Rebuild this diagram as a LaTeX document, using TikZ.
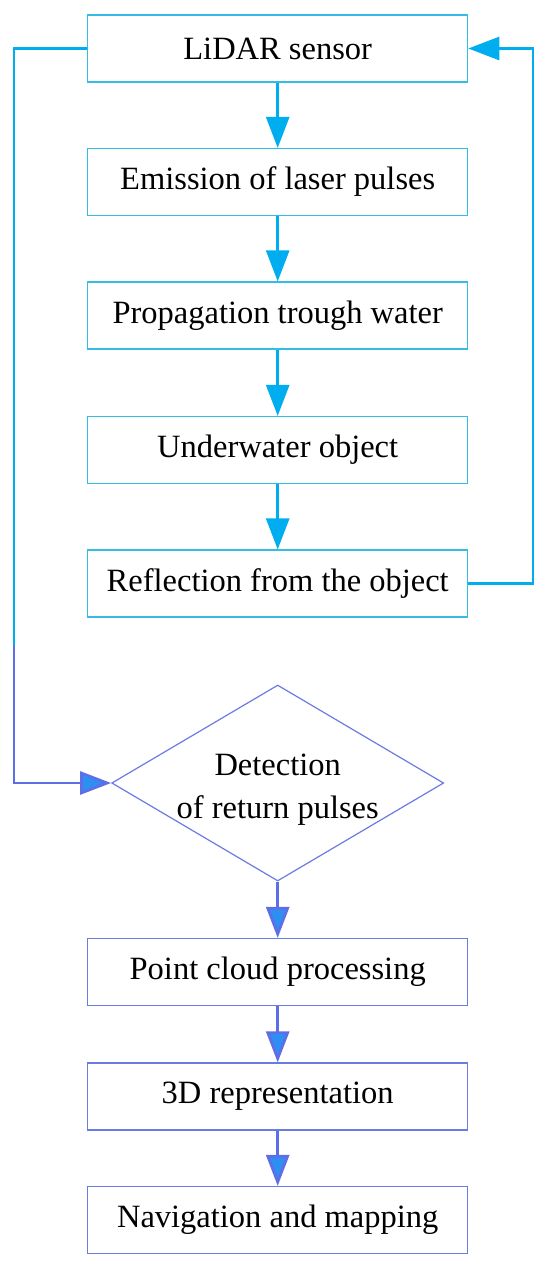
\documentclass[tikz,border=0pt]{standalone}
\usepackage{fontspec}
\setmainfont{Liberation Serif}
\usetikzlibrary{shapes.geometric,arrows.meta,calc}
\definecolor{cybox}{HTML}{33BCE4}
\definecolor{cyarr}{HTML}{00AEEF}
\definecolor{pubox}{HTML}{6A7BE2}
\definecolor{puline}{HTML}{5E6EE6}
\definecolor{puarr}{HTML}{2E8FF2}
\tikzset{
  stepbox/.style={draw=cybox, line width=1.2pt, minimum width=380pt, minimum height=67pt, inner sep=0pt, font=\fontsize{32.5}{40}\selectfont, fill=white},
  lowbox/.style={stepbox, draw=pubox},
  decbox/.style={diamond, draw=pubox, line width=1.2pt, minimum width=332pt, minimum height=196pt, inner sep=0pt},
  dectext/.style={align=center, font=\fontsize{32.5}{43}\selectfont, inner sep=0pt},
  cyflow/.style={draw=cyarr, line width=2.8pt, -{Triangle[length=31pt,width=23pt,fill=cyarr]}},
  cyline/.style={draw=cyarr, line width=2.8pt},
  puflow/.style={draw=puline, line width=2.8pt, -{Triangle[length=31pt,width=23pt,fill=puarr]}},
}
\begin{document}
\begin{tikzpicture}[x=1pt,y=-1pt]
\useasboundingbox (0,0) rectangle (550,1270);
\node[stepbox] (lidar) at (277.7,48.5) {LiDAR sensor};
\node[stepbox] (emit) at (277.7,182) {Emission of laser pulses};
\node[stepbox] (prop) at (277.7,315.5) {Propagation trough water};
\node[stepbox] (obj) at (277.7,450) {Underwater object};
\node[stepbox] (refl) at (277.7,583.5) {Reflection from the object};
\node[decbox, label={[dectext, yshift=-7pt]center:Detection\\of return pulses}] (det) at (277.7,783) {};
\node[lowbox] (pc) at (277.7,972) {Point cloud processing};
\node[lowbox] (rep) at (277.7,1096.5) {3D representation};
\node[lowbox] (nav) at (277.7,1220) {Navigation and mapping};

\coordinate (lt) at (14,48.5);
\coordinate (lsplit) at (14,646);
\coordinate (rt) at (533,48.5);

\draw[cyflow] (lidar) -- (emit);
\draw[cyflow] (emit) -- (prop);
\draw[cyflow] (prop) -- (obj);
\draw[cyflow] (obj) -- (refl);
\draw[cyflow] (refl.east) -| (rt) -- (lidar.east);
\draw[cyline] (lidar.west) -- (lt) -- (lsplit);
\draw[puflow] (lsplit) |- (det.west);
\draw[puflow] (det.south) -- (pc);
\draw[puflow] (pc) -- (rep);
\draw[puflow] (rep) -- (nav);
\end{tikzpicture}
\end{document}
